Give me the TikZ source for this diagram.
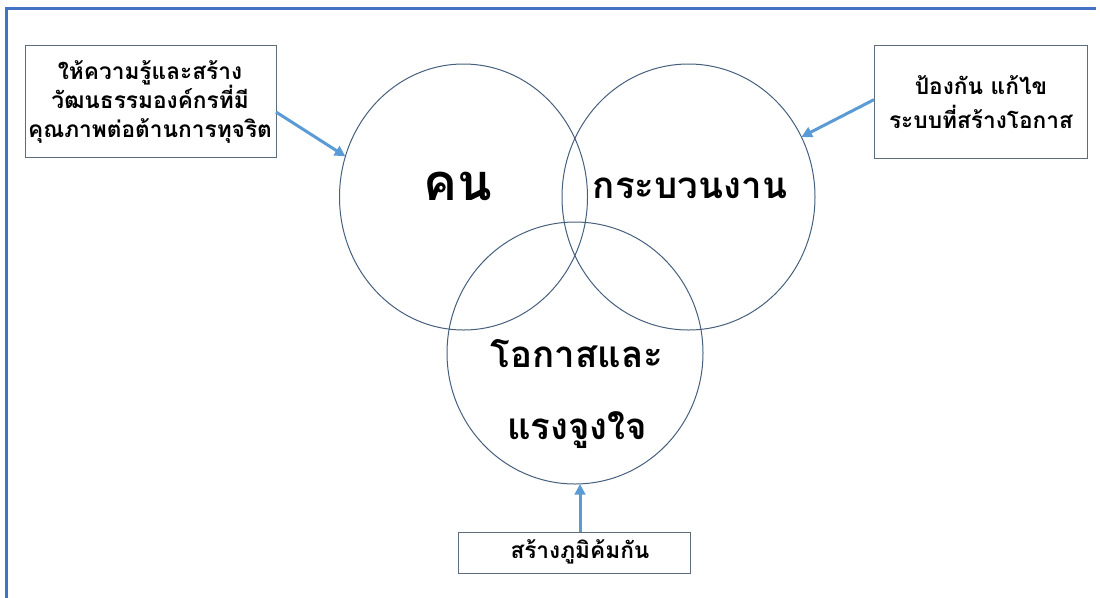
\documentclass[tikz,border=0pt]{standalone}
\usepackage{fontspec}
\setmainfont[Script=Thai]{Loma}
\usetikzlibrary{shapes.geometric,arrows.meta,calc}
\definecolor{circcol}{RGB}{70,95,125}
\definecolor{boxcol}{RGB}{95,108,122}
\definecolor{arrcol}{RGB}{91,155,213}
\definecolor{framecol}{RGB}{68,114,196}
\begin{document}
\begin{tikzpicture}[x=0.75pt,y=-0.75pt,
  venn/.style={ellipse,draw=circcol,line width=0.75pt,inner sep=0pt,outer sep=0pt},
  tbox/.style={rectangle,draw=boxcol,line width=0.75pt,inner sep=0pt,outer sep=0pt,fill=white},
  boxtext/.style={align=center,inner sep=0pt,font=\fontsize{17}{22}\selectfont\bfseries},
  ctext/.style={align=center,inner sep=0pt},
  arr/.style={draw=arrcol,line width=2.25pt,-{Triangle[length=8pt,width=8pt]}}]
\useasboundingbox (0,0) rectangle (1100,597);
% frame
\draw[framecol,line width=1.8pt] (6.5,600) -- (6.5,8.5) -- (1096,8.5);
% circles
\node[venn,minimum width={248*0.75pt},minimum height={266*0.75pt}] (kon) at (463.5,197) {};
\node[venn,minimum width={253*0.75pt},minimum height={266*0.75pt}] (proc) at (688.5,197) {};
\node[venn,minimum width={256*0.75pt},minimum height={262*0.75pt}] (opp) at (575,353) {};
% circle texts
\node[ctext,font=\fontsize{38}{40}\selectfont\bfseries] (tkon) at (458,186) {คน};
\node[ctext,font=\fontsize{27.5}{30}\selectfont\bfseries] (tproc) at (690,188) {กระบวนงาน};
\node[ctext,font=\fontsize{27.5}{54}\selectfont\bfseries] (topp) at (577,394) {โอกาสและ\\แรงจูงใจ};
% boxes
\node[tbox,minimum width={251*0.75pt},minimum height={112*0.75pt}] (lbox) at (150.5,101) {};
\node[boxtext,font=\fontsize{17}{22}\selectfont\bfseries] (ltxt) at (150,102) {ให้ความรู้และสร้าง\\วัฒนธรรมองค์กรที่มี\\คุณภาพต่อต้านการทุจริต};
\node[tbox,minimum width={213*0.75pt},minimum height={113*0.75pt}] (rbox) at (980.5,101.5) {};
\node[boxtext,font=\fontsize{17}{25}\selectfont\bfseries] (rtxt) at (981,102) {ป้องกัน แก้ไข\\ระบบที่สร้างโอกาส};
\node[tbox,minimum width={232*0.75pt},minimum height={41*0.75pt}] (bbox) at (574,552.5) {};
\node[boxtext] (btxt) at (580,552) {สร้างภูมิค้มกัน};
% arrows
\draw[arr] (lbox.-5.5) -- (kon.161);
\draw[arr] (rbox.179) -- (proc.28);
\draw[arr] (btxt.center |- bbox.north) -- (btxt.center |- opp.south);
\end{tikzpicture}
\end{document}
